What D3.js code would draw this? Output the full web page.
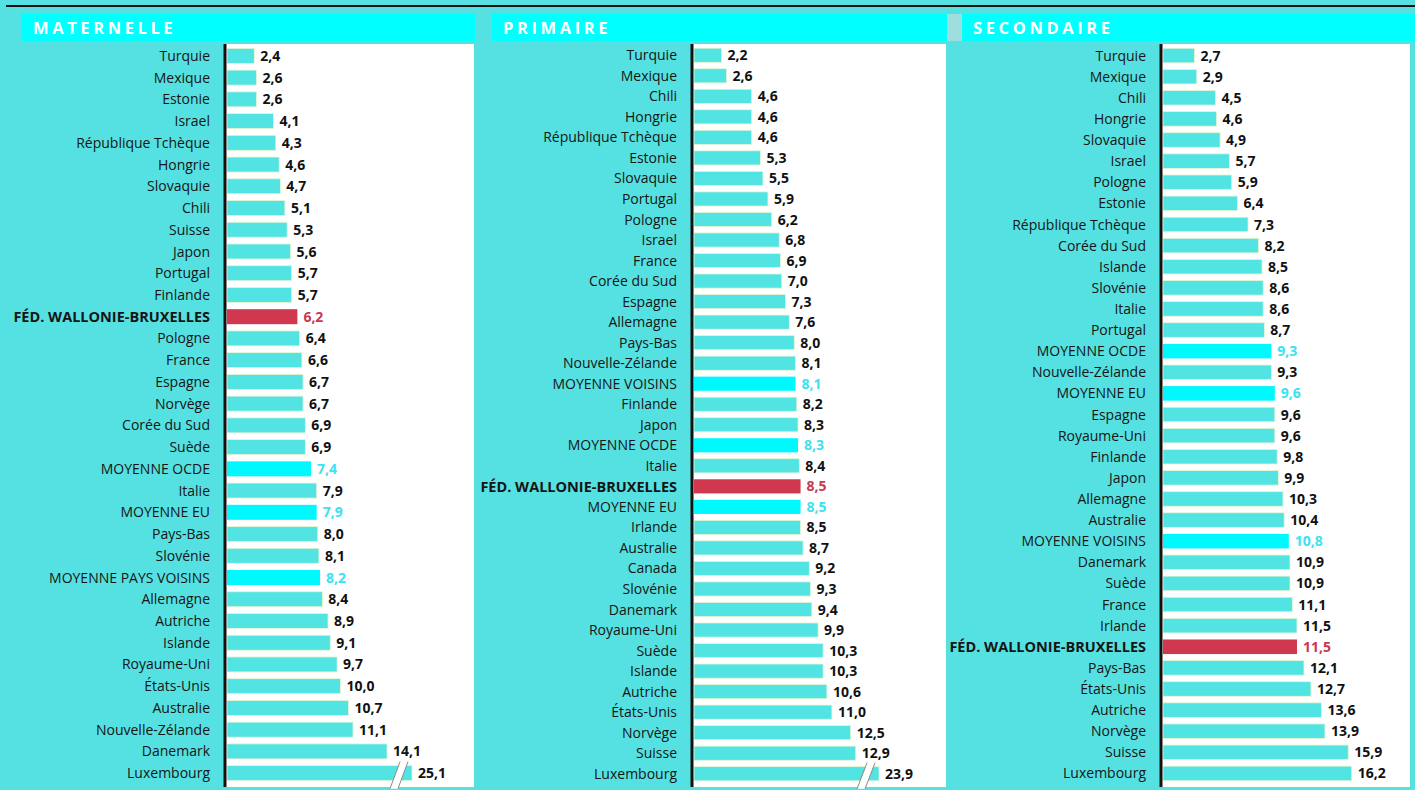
<!DOCTYPE html>
<html><head><meta charset="utf-8">
<script src="https://cdn.jsdelivr.net/npm/d3@7"></script>
<style>
body{margin:0;background:#55e1e1;}
svg{display:block}
</style>
</head><body>
<svg id="chart" width="1415" height="790"></svg>
<script>
// ---- DATA ----
const titles = ["MATERNELLE", "PRIMAIRE", "SECONDAIRE"];

const categoriesMaternelle = ["Turquie","Mexique","Estonie","Israel","République Tchèque","Hongrie","Slovaquie","Chili","Suisse","Japon","Portugal","Finlande","FÉD. WALLONIE-BRUXELLES","Pologne","France","Espagne","Norvège","Corée du Sud","Suède","MOYENNE OCDE","Italie","MOYENNE EU","Pays-Bas","Slovénie","MOYENNE PAYS VOISINS","Allemagne","Autriche","Islande","Royaume-Uni","États-Unis","Australie","Nouvelle-Zélande","Danemark","Luxembourg"];
const valuesMaternelle = [2.4,2.6,2.6,4.1,4.3,4.6,4.7,5.1,5.3,5.6,5.7,5.7,6.2,6.4,6.6,6.7,6.7,6.9,6.9,7.4,7.9,7.9,8.0,8.1,8.2,8.4,8.9,9.1,9.7,10.0,10.7,11.1,14.1,25.1];

const categoriesPrimaire = ["Turquie","Mexique","Chili","Hongrie","République Tchèque","Estonie","Slovaquie","Portugal","Pologne","Israel","France","Corée du Sud","Espagne","Allemagne","Pays-Bas","Nouvelle-Zélande","MOYENNE VOISINS","Finlande","Japon","MOYENNE OCDE","Italie","FÉD. WALLONIE-BRUXELLES","MOYENNE EU","Irlande","Australie","Canada","Slovénie","Danemark","Royaume-Uni","Suède","Islande","Autriche","États-Unis","Norvège","Suisse","Luxembourg"];
const valuesPrimaire = [2.2,2.6,4.6,4.6,4.6,5.3,5.5,5.9,6.2,6.8,6.9,7.0,7.3,7.6,8.0,8.1,8.1,8.2,8.3,8.3,8.4,8.5,8.5,8.5,8.7,9.2,9.3,9.4,9.9,10.3,10.3,10.6,11.0,12.5,12.9,23.9];

const categoriesSecondaire = ["Turquie","Mexique","Chili","Hongrie","Slovaquie","Israel","Pologne","Estonie","République Tchèque","Corée du Sud","Islande","Slovénie","Italie","Portugal","MOYENNE OCDE","Nouvelle-Zélande","MOYENNE EU","Espagne","Royaume-Uni","Finlande","Japon","Allemagne","Australie","MOYENNE VOISINS","Danemark","Suède","France","Irlande","FÉD. WALLONIE-BRUXELLES","Pays-Bas","États-Unis","Autriche","Norvège","Suisse","Luxembourg"];
const valuesSecondaire = [2.7,2.9,4.5,4.6,4.9,5.7,5.9,6.4,7.3,8.2,8.5,8.6,8.6,8.7,9.3,9.3,9.6,9.6,9.6,9.8,9.9,10.3,10.4,10.8,10.9,10.9,11.1,11.5,11.5,12.1,12.7,13.6,13.9,15.9,16.2];

// value at which an axis-break is drawn (broken bars), null = no break
const breakValues = [16.3, 14.76, null];

// ---- LAYOUT ----
const svg = d3.select("#chart");
const W = 1415, H = 790;
const COL = {bg:"#55e1e1", bar:"#52e3e3", avg:"#00f8ff", fwb:"#d03850", header:"#00ffff",
             avgText:"#3ae2f2", fwbText:"#c63a52"};
const fmt = v => d3.format(".1f")(v).replace(".", ",");
const FONT = "'Open Sans', 'Liberation Sans', sans-serif";

svg.append("rect").attr("width",W).attr("height",H).attr("fill",COL.bg);
svg.append("line").attr("x1",6).attr("x2",W).attr("y1",6).attr("y2",6)
   .attr("stroke","#111").attr("stroke-width",2);

const layouts = [
  {hx0:21, hx1:475, tx:33, axisX:225, plotRight:474, dmax:21.76},
  {hx0:492, hx1:947, tx:503, axisX:692, plotRight:946, dmax:20.1},
  {hx0:962, hx1:1415, tx:973, axisX:1161, plotRight:1410, dmax:21.2}
];
const datasets = [
  [categoriesMaternelle, valuesMaternelle],
  [categoriesPrimaire, valuesPrimaire],
  [categoriesSecondaire, valuesSecondaire]
];

// small grey strip before third header
svg.append("rect").attr("x",947).attr("y",14).attr("width",15).attr("height",27).attr("fill","#9edede");

layouts.forEach((L, i) => {
  const [cats, vals] = datasets[i];
  const rows = cats.map((c, k) => ({cat:c, val:vals[k],
      kind: c.startsWith("MOYENNE") ? "avg" : (c.startsWith("FÉD.") ? "fwb" : "normal")}));
  const g = svg.append("g");

  // header band
  g.append("rect").attr("x",L.hx0).attr("y",14).attr("width",L.hx1-L.hx0).attr("height",27).attr("fill",COL.header);
  g.append("text").attr("x",L.tx).attr("y",33.5).text(titles[i])
    .attr("fill","#fff").attr("font-family",FONT).attr("font-weight",700)
    .attr("font-size",16.5).attr("letter-spacing",3.6);

  // white plot area
  g.append("rect").attr("x",L.axisX).attr("y",44).attr("width",L.plotRight-L.axisX).attr("height",743).attr("fill","#fff");

  const x = d3.scaleLinear().domain([0, L.dmax]).range([L.axisX+2, L.plotRight]);
  const y = d3.scaleBand().domain(rows.map(d=>d.cat)).range([45, 784]).paddingInner(0.31).paddingOuter(0.155);
  const brk = breakValues[i];
  const shown = v => (brk !== null && v > brk) ? brk : v;

  // bars
  g.selectAll("rect.bar").data(rows).join("rect").attr("class","bar")
    .attr("x", x(0)).attr("y", d=>y(d.cat))
    .attr("width", d=>x(shown(d.val))-x(0)).attr("height", y.bandwidth())
    .attr("fill", d=> d.kind==="avg"?COL.avg:(d.kind==="fwb"?COL.fwb:COL.bar))
    .attr("stroke", d=> d.kind==="normal" ? "#e6f7d0" : "none").attr("stroke-width",0.8);

  // break marks
  rows.filter(d => brk !== null && d.val > brk).forEach(d => {
    const xe = x(brk) - 17;
    const y0 = y(d.cat) - 4, y1 = y(d.cat) + y.bandwidth() + 8;
    const sl = 5, gap = 8;
    g.append("path")
      .attr("d", `M${xe-sl},${y1} L${xe+sl},${y0} L${xe+sl+gap},${y0} L${xe-sl+gap},${y1} Z`)
      .attr("fill","#fff").attr("stroke","none");
    [0,gap].forEach(o => g.append("line")
      .attr("x1",xe-sl+o).attr("y1",y1).attr("x2",xe+sl+o).attr("y2",y0)
      .attr("stroke","#8a8a8a").attr("stroke-width",1));
  });

  // axis line
  g.append("line").attr("x1",L.axisX).attr("x2",L.axisX).attr("y1",44).attr("y2",787)
    .attr("stroke","#111").attr("stroke-width",3);

  // category labels
  g.selectAll("text.cat").data(rows).join("text").attr("class","cat")
    .attr("x", L.axisX-15).attr("y", d=>y(d.cat)+y.bandwidth()/2).attr("dy","0.36em")
    .attr("text-anchor","end").attr("font-family",FONT)
    .attr("font-size", d=>d.kind==="fwb"?14.5:14)
    .attr("font-weight", d=>d.kind==="fwb"?700:400).attr("fill","#151515")
    .text(d=>d.cat);

  // value labels
  g.selectAll("text.val").data(rows).join("text").attr("class","val")
    .attr("x", d=>x(shown(d.val))+6).attr("y", d=>y(d.cat)+y.bandwidth()/2).attr("dy","0.36em")
    .attr("font-family",FONT).attr("font-size",14).attr("font-weight",700)
    .attr("fill", d=> d.kind==="avg"?COL.avgText:(d.kind==="fwb"?COL.fwbText:"#111"))
    .text(d=>fmt(d.val));
});
</script>
</body></html>
